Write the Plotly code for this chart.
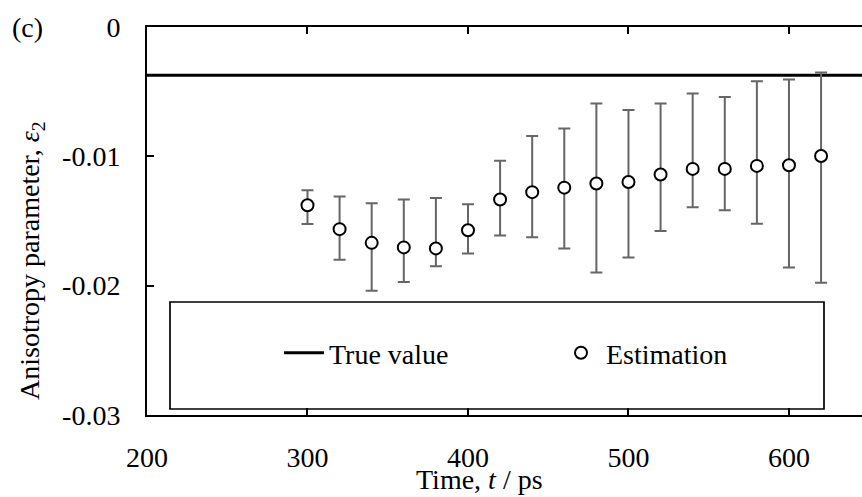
import numpy as np
import plotly.graph_objects as go

# Time points (ps) and estimated anisotropy parameter epsilon_2
time_ps = [300, 320, 340, 360, 380, 400, 420, 440, 460, 480, 500, 520, 540, 560, 580, 600, 620]
estimate = [-0.01378, -0.01563, -0.01669, -0.01704, -0.01712, -0.01571, -0.01334, -0.01277, -0.01242,
            -0.01210, -0.01198, -0.01140, -0.01097, -0.01097, -0.01074, -0.01069, -0.00997]
upper = [-0.01262, -0.01310, -0.01362, -0.01334, -0.01323, -0.01370, -0.01035, -0.00842, -0.00785,
         -0.00592, -0.00641, -0.00592, -0.00515, -0.00541, -0.00420, -0.00406, -0.00352]
lower = [-0.01524, -0.01800, -0.02040, -0.01972, -0.01849, -0.01751, -0.01612, -0.01625, -0.01712,
         -0.01898, -0.01782, -0.01578, -0.01393, -0.01416, -0.01522, -0.01859, -0.01978]
true_value = -0.00373

x_range = [200, 645.5]
y_range = [-0.03, 0]
x_ticks = [200, 300, 400, 500, 600]
y_ticks = [0, -0.01, -0.02, -0.03]
y_ticklabels = ["0", "-0.01", "-0.02", "-0.03"]

FONT = "Liberation Serif"
FS = 28

W, H = 862, 497
L, R, T, B = 147, 0, 27, 82
pw, ph = W - L - R, H - T - B


def px(x):
    return (x - L) / pw


def py(y):
    return (H - B - y) / ph


est = np.array(estimate)
err_plus = np.array(upper) - est
err_minus = est - np.array(lower)

fig = go.Figure()

fig.add_trace(go.Scatter(
    x=[200, 650], y=[true_value, true_value], mode="lines",
    line=dict(color="black", width=3), name="True value",
))

fig.add_trace(go.Scatter(
    x=time_ps, y=estimate, mode="markers", name="Estimation",
    marker=dict(symbol="circle", size=12, color="white", line=dict(color="black", width=2)),
    error_y=dict(type="data", symmetric=False, array=err_plus, arrayminus=err_minus,
                 color="#666666", thickness=2, width=6),
))

# legend frame
fig.add_shape(type="rect", xref="paper", yref="paper",
              x0=px(170), x1=px(824), y0=py(409), y1=py(302),
              line=dict(color="black", width=1.7), fillcolor="white", layer="below")

fig.update_layout(
    width=W, height=H,
    margin=dict(l=L, r=R, t=T, b=B, pad=0),
    paper_bgcolor="white", plot_bgcolor="white",
    font=dict(family=FONT, size=FS, color="black"),
    showlegend=True,
    legend=dict(orientation="h", x=px(279), xanchor="left", y=py(328), yanchor="top",
                bgcolor="rgba(0,0,0,0)", borderwidth=0, itemwidth=40,
                entrywidth=222, entrywidthmode="pixels",
                font=dict(family=FONT, size=FS, color="black")),
    xaxis=dict(range=x_range, tickvals=x_ticks, ticks="inside", ticklen=7, tickwidth=2,
               tickcolor="black", showline=True, linecolor="black", linewidth=2,
               mirror="ticks", showgrid=False, zeroline=False, ticklabelstandoff=16,
               tickfont=dict(family=FONT, size=FS, color="black")),
    yaxis=dict(range=y_range, tickvals=y_ticks, ticktext=y_ticklabels, ticks="inside",
               ticklen=7, tickwidth=2, tickcolor="black", showline=True, linecolor="black",
               linewidth=2, showgrid=False, zeroline=False, ticklabelstandoff=19,
               tickfont=dict(family=FONT, size=FS, color="black")),
    annotations=[
        dict(text="Time, <i>t</i> / ps", xref="paper", yref="paper", x=px(479), y=py(479),
             xanchor="center", yanchor="middle", showarrow=False,
             font=dict(family=FONT, size=FS, color="black")),
        dict(text="Anisotropy parameter, <i>ε</i><sub>2</sub>", xref="paper", yref="paper",
             x=px(31), y=py(261), xanchor="center", yanchor="middle", textangle=-90,
             showarrow=False, font=dict(family=FONT, size=FS, color="black")),
        dict(text="(c)", xref="paper", yref="paper", x=px(27), y=py(27),
             xanchor="center", yanchor="middle", showarrow=False,
             font=dict(family=FONT, size=FS, color="black")),
    ],
)

fig.write_html("out.html")
